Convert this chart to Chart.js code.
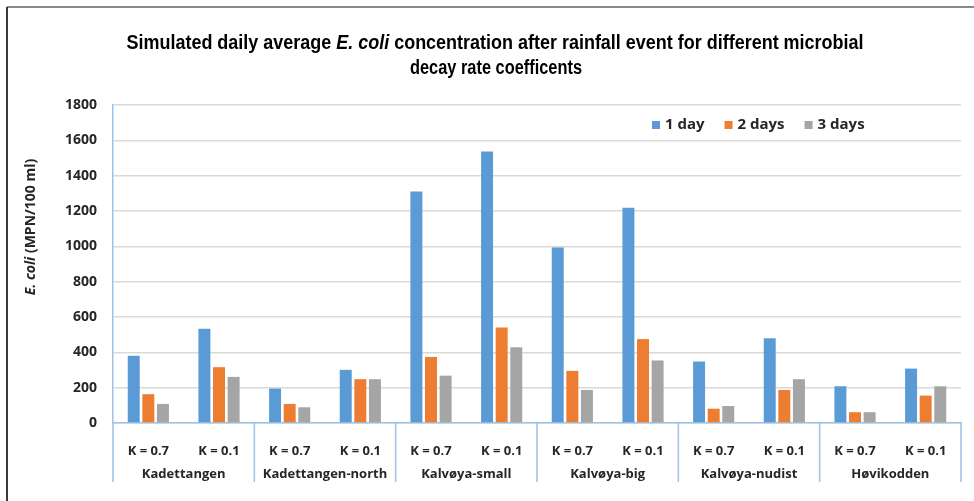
<!DOCTYPE html>
<html>
<head>
<meta charset="utf-8">
<script src="https://cdn.jsdelivr.net/npm/chart.js@4/dist/chart.umd.min.js"></script>
<style>
  html, body { margin: 0; padding: 0; background: #fff; }
  #wrap { position: relative; width: 974px; height: 501px; }
</style>
</head>
<body>
<div id="wrap"><canvas id="c" width="974" height="501"></canvas></div>
<script>
// Sites and decay-rate cases
const sites = ['Kadettangen', 'Kadettangen-north', 'Kalvøya-small', 'Kalvøya-big', 'Kalvøya-nudist', 'Høvikodden'];
const kCases = ['K = 0.7', 'K = 0.1'];

// Daily average E. coli (MPN/100 ml), two K values per site
const day1 = [380, 533, 195, 301, 1310, 1537, 993, 1218, 348, 480, 208, 308];
const day2 = [163, 316, 108, 248, 374, 541, 295, 475, 81, 187, 61, 155];
const day3 = [108, 261, 89, 248, 268, 429, 187, 354, 96, 248, 61, 208];

const seriesNames = ['1 day', '2 days', '3 days'];
const yTicks = [0, 200, 400, 600, 800, 1000, 1200, 1400, 1600, 1800];

const labels = [];
sites.forEach(() => kCases.forEach(k => labels.push(k)));

const BLUE = '#5B9BD5', ORANGE = '#ED7D31', GRAY = '#A5A5A5';
const AXIS = '#9DC3E6';
const TXT = '#262626';
const FONT = "'Open Sans', 'Liberation Sans', sans-serif";
const TITLE_FONT = "'Liberation Sans', Arial, sans-serif";

// Draws a run of mixed-style text, condensed horizontally to the given width
function drawRuns(ctx, runs, cx, cy, size, width) {
  let total = 0;
  runs.forEach(r => { ctx.font = r[1] + ' ' + size + 'px ' + TITLE_FONT; total += ctx.measureText(r[0]).width; });
  const k = width / total;
  ctx.save();
  ctx.translate(cx - width / 2, cy);
  ctx.scale(k, 1);
  let x = 0;
  ctx.textAlign = 'left';
  ctx.textBaseline = 'middle';
  runs.forEach(r => { ctx.font = r[1] + ' ' + size + 'px ' + TITLE_FONT; ctx.fillText(r[0], x, 0); x += ctx.measureText(r[0]).width; });
  ctx.restore();
}

// Title, axis title, site groups, legend and frame
const decorations = {
  id: 'decorations',
  afterDraw(chart) {
    const ctx = chart.ctx;
    const area = chart.chartArea;
    const xs = chart.scales.x;

    // frame
    ctx.save();
    ctx.strokeStyle = '#8a8a8a';
    ctx.lineWidth = 2;
    ctx.beginPath(); ctx.moveTo(7, 7); ctx.lineTo(974, 7); ctx.stroke();
    ctx.strokeStyle = '#3a3a3a';
    ctx.beginPath(); ctx.moveTo(7, 7); ctx.lineTo(7, 501); ctx.stroke();
    ctx.restore();

    // title
    ctx.save();
    ctx.fillStyle = '#000';
    drawRuns(ctx, [
      ['Simulated daily average ', 'bold'],
      ['E. coli', 'italic bold'],
      [' concentration after rainfall event for different microbial', 'bold']
    ], 495, 43, 20, 737);
    drawRuns(ctx, [['decay rate coefficents', 'bold']], 496, 68, 20, 172);
    ctx.restore();

    // y axis title
    ctx.save();
    ctx.translate(31, 227);
    ctx.rotate(-Math.PI / 2);
    ctx.fillStyle = TXT;
    ctx.textBaseline = 'middle';
    const yt = [['E. coli', 'italic bold'], [' (MPN/100 ml)', 'bold']];
    let w = 0;
    yt.forEach(p => { ctx.font = p[1] + ' 14px ' + FONT; w += ctx.measureText(p[0]).width; });
    let yx = -w / 2;
    ctx.textAlign = 'left';
    yt.forEach(p => { ctx.font = p[1] + ' 14px ' + FONT; ctx.fillText(p[0], yx, 0); yx += ctx.measureText(p[0]).width; });
    ctx.restore();

    // site group separators and names
    ctx.save();
    ctx.strokeStyle = AXIS;
    ctx.lineWidth = 1.5;
    const n = labels.length;
    const bounds = [area.left];
    for (let i = 1; i < n; i += 2) {
      if (i + 1 < n) bounds.push((xs.getPixelForValue(i) + xs.getPixelForValue(i + 1)) / 2);
    }
    bounds.push(area.right);
    bounds.forEach(b => {
      ctx.beginPath(); ctx.moveTo(b, area.bottom); ctx.lineTo(b, 482); ctx.stroke();
    });
    ctx.fillStyle = TXT;
    ctx.font = 'bold 13px ' + FONT;
    ctx.textAlign = 'center';
    ctx.textBaseline = 'middle';
    sites.forEach((s, g) => {
      ctx.fillText(s, (bounds[g] + bounds[g + 1]) / 2, 474);
    });
    ctx.restore();

    // legend
    ctx.save();
    ctx.font = 'bold 15px ' + FONT;
    ctx.textBaseline = 'middle';
    ctx.textAlign = 'left';
    let lx = 652;
    const ly = 125;
    chart.data.datasets.forEach(ds => {
      ctx.fillStyle = ds.backgroundColor;
      ctx.fillRect(lx, ly - 4, 8, 8);
      ctx.fillStyle = TXT;
      ctx.fillText(ds.label, lx + 13, ly);
      lx += 13 + ctx.measureText(ds.label).width + 20;
    });
    ctx.restore();
  }
};

new Chart(document.getElementById('c'), {
  type: 'bar',
  data: {
    labels: labels,
    datasets: [
      { label: seriesNames[0], data: day1, backgroundColor: BLUE },
      { label: seriesNames[1], data: day2, backgroundColor: ORANGE },
      { label: seriesNames[2], data: day3, backgroundColor: GRAY }
    ]
  },
  options: {
    responsive: false,
    animation: false,
    devicePixelRatio: 1,
    layout: { padding: { top: 105, right: 13, left: 0, bottom: 0 } },
    datasets: { bar: { categoryPercentage: 0.62, barPercentage: 0.82 } },
    plugins: {
      legend: { display: false },
      title: { display: false },
      tooltip: { enabled: false }
    },
    scales: {
      x: {
        grid: { display: false },
        border: { color: AXIS, width: 1.5 },
        ticks: { color: TXT, font: { family: FONT, size: 13, weight: 'bold' }, padding: 12, maxRotation: 0, autoSkip: false },
        afterFit(s) { s.height = 78; }
      },
      y: {
        min: 0, max: 1800,
        afterBuildTicks(s) { s.ticks = yTicks.map(v => ({ value: v })); },
        grid: { color: '#d9d9d9', lineWidth: 1.5, drawTicks: false },
        border: { color: AXIS, width: 1.5 },
        ticks: { color: TXT, font: { family: FONT, size: 14, weight: 'bold' }, padding: 16, callback: v => String(v) },
        afterFit(s) { s.width = 113; }
      }
    }
  },
  plugins: [decorations]
});
</script>
</body>
</html>
